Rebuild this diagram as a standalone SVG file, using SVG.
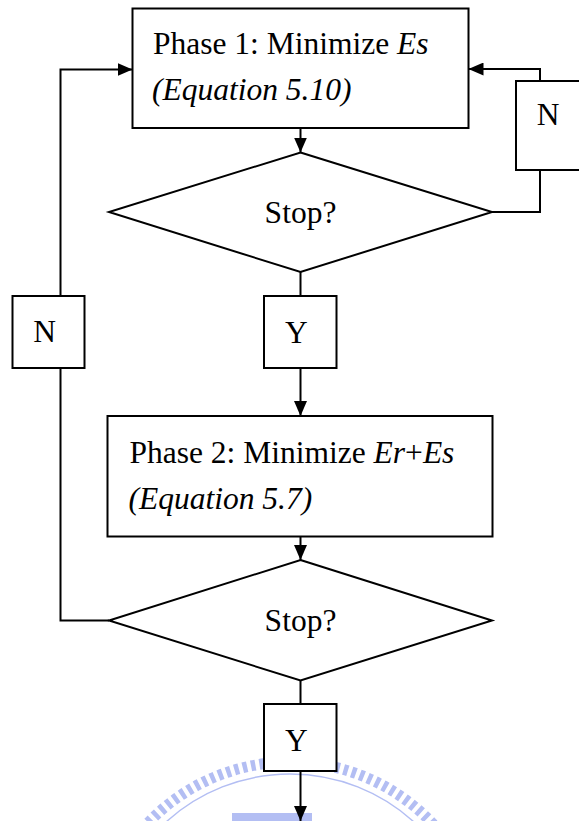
<svg xmlns="http://www.w3.org/2000/svg" width="579" height="821" viewBox="0 0 579 821">
  <style>
    .shape { fill: #ffffff; stroke: #000000; stroke-width: 2; }
    .wire { fill: none; stroke: #000000; stroke-width: 2; }
    .label { font-family: 'Liberation Serif', 'DejaVu Serif', serif; font-size: 31.5px; fill: #000000; }
    .it { font-style: italic; }
    .seal { fill: none; stroke: #b3bef3; }
  </style>
  <defs>
    <marker id="arrow" markerUnits="userSpaceOnUse" markerWidth="15" markerHeight="13" refX="15" refY="6.5" orient="auto">
      <path d="M0,0 L15,6.5 L0,13 z" fill="#000000"/>
    </marker>
  </defs>
  <rect width="579" height="821" fill="#ffffff"/>

  <!-- faint seal at the foot of the page -->
  <g id="seal">
    <circle class="seal" cx="290" cy="958" r="196" stroke-width="11" stroke-dasharray="4.5 4"/>
    <circle class="seal" cx="290" cy="958" r="184" stroke-width="1.5"/>
    <rect x="232" y="813" width="80" height="8" fill="#b3bef3"/>
  </g>

  <!-- connectors -->
  <g id="connectors">
    <line class="wire" x1="300.5" y1="128" x2="300.5" y2="152.5" marker-end="url(#arrow)"/>
    <line class="wire" x1="300.5" y1="272" x2="300.5" y2="296"/>
    <line class="wire" x1="300.5" y1="368" x2="300.5" y2="416" marker-end="url(#arrow)"/>
    <line class="wire" x1="300.5" y1="536.5" x2="300.5" y2="560" marker-end="url(#arrow)"/>
    <line class="wire" x1="300.5" y1="680.5" x2="300.5" y2="704"/>
    <line class="wire" x1="300.5" y1="771" x2="300.5" y2="821" marker-end="url(#arrow)"/>
    <!-- right loop: first test back to phase 1 -->
    <polyline class="wire" points="492,212 540,212 540,170"/>
    <polyline class="wire" points="540,81 540,69 468.5,69" marker-end="url(#arrow)"/>
    <!-- left loop: second test back to phase 1 -->
    <polyline class="wire" points="109,620.5 60.5,620.5 60.5,368"/>
    <polyline class="wire" points="60.5,296 60.5,69.5 132.5,69.5" marker-end="url(#arrow)"/>
  </g>

  <g id="phase1">
    <rect class="shape" x="132.5" y="8.5" width="336" height="119.5"/>
    <text class="label" x="153" y="54" font-family="Liberation Serif, serif">Phase 1: Minimize <tspan class="it">Es</tspan></text>
    <text class="label it" x="152" y="100" font-family="Liberation Serif, serif">(Equation 5.10)</text>
  </g>

  <g id="stop1">
    <polygon class="shape" points="300.5,152.5 492,212 300.5,272 109,212"/>
    <text class="label" x="300.5" y="222.5" text-anchor="middle">Stop?</text>
  </g>

  <g id="no1">
    <rect class="shape" x="516" y="81" width="72" height="89"/>
    <text class="label" x="536.7" y="125">N</text>
  </g>

  <g id="yes1">
    <rect class="shape" x="264" y="296" width="72.5" height="72"/>
    <text class="label" x="285" y="342.5">Y</text>
  </g>

  <g id="no2">
    <rect class="shape" x="12.5" y="296" width="72" height="72"/>
    <text class="label" x="33.3" y="342">N</text>
  </g>

  <g id="phase2">
    <rect class="shape" x="107.5" y="416" width="385" height="120.5"/>
    <text class="label" x="129.5" y="463">Phase 2: Minimize <tspan class="it">Er</tspan>+<tspan class="it">Es</tspan></text>
    <text class="label it" x="128.5" y="509">(Equation 5.7)</text>
  </g>

  <g id="stop2">
    <polygon class="shape" points="300.5,560 492,620.5 300.5,680.5 109,620.5"/>
    <text class="label" x="300.5" y="631" text-anchor="middle">Stop?</text>
  </g>

  <g id="yes2">
    <rect class="shape" x="264" y="704" width="72.5" height="67"/>
    <text class="label" x="285" y="750.5">Y</text>
  </g>
</svg>
